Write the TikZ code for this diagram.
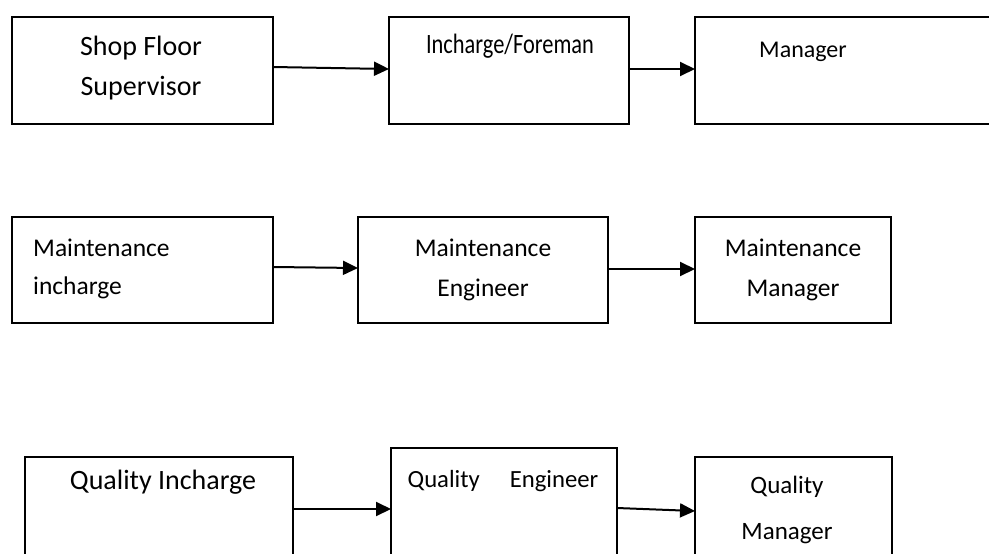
\documentclass[tikz,border=0pt]{standalone}
\usepackage{fontspec}
\setmainfont{Carlito}
\usetikzlibrary{arrows.meta,calc}

\tikzset{
  box/.style={draw=black, line width=1.6pt, inner sep=0pt, outer sep=0pt, anchor=north west},
  arr/.style={line width=2pt, -{Triangle[length=15pt,width=14pt]}},
  txt/.style={anchor=base, inner sep=0pt},
}

\begin{document}
\begin{tikzpicture}[x=1pt,y=-1pt]
  \clip (0,0) rectangle (989,554);
  \fill[white] (0,0) rectangle (989,554);

  % first chain: production
  \node[box, minimum width=261pt, minimum height=107pt] (sfs) at (12,17) {};
  \node[box, minimum width=240pt, minimum height=107pt] (inc) at (389,17) {};
  \node[box, minimum width=320pt, minimum height=107pt] (mgr) at (695,17) {};
  \node[txt, font=\fontsize{28}{30}\selectfont] (t1a) at (141,56) {Shop Floor};
  \node[txt, font=\fontsize{28}{30}\selectfont] (t1b) at (141,95) {Supervisor};
  \node[txt, font=\fontsize{28}{30}\selectfont] (t2) at (510,53) {\scalebox{0.8}[1]{Incharge/Foreman}};
  \node[txt, font=\fontsize{24}{26}\selectfont] (t3) at (803,57) {Manager};
  \draw[arr] ($(sfs.north east)+(0,50)$) -- ($(inc.north west)+(0,52)$);
  \draw[arr] ($(inc.north east)+(0,52)$) -- ($(mgr.north west)+(0,52)$);

  % second chain: maintenance
  \node[box, minimum width=261pt, minimum height=106pt] (mi) at (12,217) {};
  \node[box, minimum width=250pt, minimum height=106pt] (me) at (358,217) {};
  \node[box, minimum width=196pt, minimum height=106pt] (mm) at (695,217) {};
  \node[txt, anchor=base west, font=\fontsize{25.5}{28}\selectfont] (t4a) at (33,256) {Maintenance};
  \node[txt, anchor=base west, font=\fontsize{25.5}{28}\selectfont] (t4b) at (33,294) {incharge};
  \node[txt, font=\fontsize{25.5}{28}\selectfont] (t5a) at (483,256) {Maintenance};
  \node[txt, font=\fontsize{25.5}{28}\selectfont] (t5b) at (483,296) {Engineer};
  \node[txt, font=\fontsize{25.5}{28}\selectfont] (t6a) at (793,256) {Maintenance};
  \node[txt, font=\fontsize{25.5}{28}\selectfont] (t6b) at (793,296) {Manager};
  \draw[arr] ($(mi.north east)+(0,50)$) -- ($(me.north west)+(0,51)$);
  \draw[arr] ($(me.north east)+(0,52)$) -- ($(mm.north west)+(0,52)$);

  % third chain: quality
  \node[box, minimum width=268pt, minimum height=120pt] (qi) at (25,457) {};
  \node[box, minimum width=226pt, minimum height=130pt] (qe) at (391,448) {};
  \node[box, minimum width=197pt, minimum height=120pt] (qm) at (695,457) {};
  \node[txt, font=\fontsize{28}{30}\selectfont] (t7) at (163,489) {Quality Incharge};
  \node[txt, font=\fontsize{24.7}{27}\selectfont] (t8) at (503,487) {Quality\hspace{30pt}Engineer};
  \node[txt, font=\fontsize{25}{27}\selectfont] (t9a) at (787,493) {Quality};
  \node[txt, font=\fontsize{25}{27}\selectfont] (t9b) at (787,539) {Manager};
  \draw[arr] ($(qi.north east)+(0,52)$) -- ($(qe.north west)+(0,61)$);
  \draw[arr] ($(qe.north east)+(0,60)$) -- ($(qm.north west)+(0,54)$);
\end{tikzpicture}
\end{document}
